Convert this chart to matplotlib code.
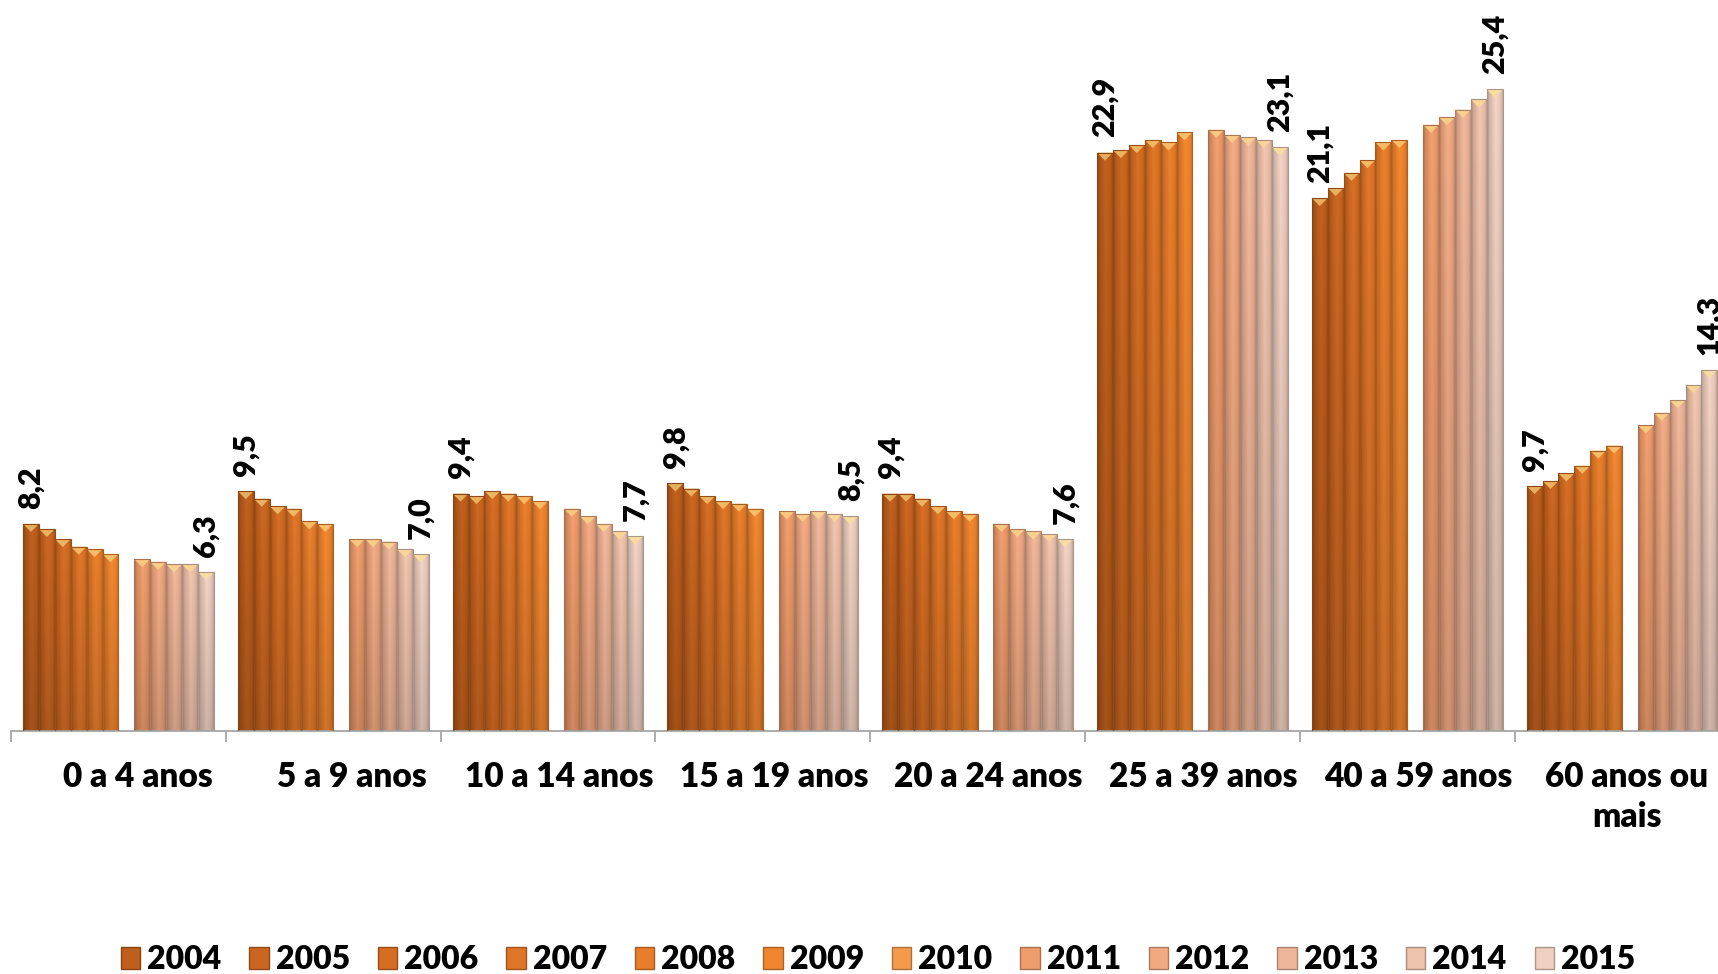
import numpy as np
import matplotlib
matplotlib.use("Agg")
import matplotlib.pyplot as plt
from matplotlib.colors import to_rgb
from matplotlib.patches import Patch, Polygon
from matplotlib.transforms import offset_copy

plt.rcParams['font.family'] = ['Lato', 'DejaVu Sans']

CATEGORIES = ["0 a 4 anos", "5 a 9 anos", "10 a 14 anos", "15 a 19 anos",
              "20 a 24 anos", "25 a 39 anos", "40 a 59 anos", "60 anos ou\nmais"]
YEARS = ["2004", "2005", "2006", "2007", "2008", "2009",
         "2010", "2011", "2012", "2013", "2014", "2015"]

# one list per year, one value (%) per age group; 2010 has no data
V2004 = [8.2, 9.5, 9.4, 9.8, 9.4, 22.9, 21.1, 9.7]
V2005 = [8.0, 9.2, 9.3, 9.6, 9.4, 23.0, 21.5, 9.9]
V2006 = [7.6, 8.9, 9.5, 9.3, 9.2, 23.2, 22.1, 10.2]
V2007 = [7.3, 8.8, 9.4, 9.1, 8.9, 23.4, 22.6, 10.5]
V2008 = [7.2, 8.3, 9.3, 9.0, 8.7, 23.3, 23.3, 11.1]
V2009 = [7.0, 8.2, 9.1, 8.8, 8.6, 23.7, 23.4, 11.3]
V2010 = [np.nan] * 8
V2011 = [6.8, 7.6, 8.8, 8.7, 8.2, 23.8, 24.0, 12.1]
V2012 = [6.7, 7.6, 8.5, 8.6, 8.0, 23.6, 24.3, 12.6]
V2013 = [6.6, 7.5, 8.2, 8.7, 7.9, 23.5, 24.6, 13.1]
V2014 = [6.6, 7.2, 7.9, 8.6, 7.8, 23.4, 25.0, 13.7]
V2015 = [6.3, 7.0, 7.7, 8.5, 7.6, 23.1, 25.4, 14.3]

SERIES = [V2004, V2005, V2006, V2007, V2008, V2009,
          V2010, V2011, V2012, V2013, V2014, V2015]

COLORS = ["#BF5F1C", "#CB6620", "#D56D23", "#DF7527", "#E87D2B", "#F0852F",
          "#F39A4C", "#EF9C6C", "#F1A982", "#EFB598", "#EFC2AC", "#EFCFC0"]

LABEL_DX = [19, 19, 11, 11, 11, 11, 11, 5]   # px shift of category labels

BAR_W = 0.074
TRI_H = 0.32


def mix(c1, c2, t):
    a = np.array(to_rgb(c1))
    b = np.array(to_rgb(c2))
    return tuple(a * (1 - t) + b * t)


def darker(c, f=0.72):
    return tuple(np.array(to_rgb(c)) * f)


def shade_bar(ax, rect, color):
    x0, w, h = rect.get_x(), rect.get_width(), rect.get_height()
    u = np.linspace(0, 1, 24)
    v = np.linspace(0, 1, 40)[:, None]
    horiz = np.interp(u, [0, 0.12, 0.55, 0.88, 1], [0.70, 0.86, 1.03, 0.95, 0.82])
    vert = 0.85 + 0.15 * v
    f = horiz[None, :] * vert
    rgb = np.clip(np.array(to_rgb(color))[None, None, :] * f[:, :, None], 0, 1)
    im = ax.imshow(rgb, extent=(x0, x0 + w, 0, h), origin='lower',
                   aspect='auto', interpolation='bilinear', zorder=2)
    im.set_clip_path(rect)
    tri = Polygon([(x0, h), (x0 + w, h), (x0 + w / 2, h - TRI_H)], closed=True,
                  facecolor=mix(color, "#FFE48A", 0.6), edgecolor='none', zorder=2.5)
    ax.add_patch(tri)


def main():
    fig = plt.figure(figsize=(17.18, 9.74), dpi=100)
    ax = fig.add_axes([11 / 1718, 1 - 731 / 974, 1 - 11 / 1718, 731 / 974])

    x = np.arange(len(CATEGORIES))
    for j, (vals, col) in enumerate(zip(SERIES, COLORS)):
        if np.all(np.isnan(vals)):
            continue
        pos = x + (j - 5.5) * BAR_W
        bars = ax.bar(pos, vals, width=BAR_W, facecolor='none',
                      edgecolor=darker(col), linewidth=0.8, zorder=3)
        for rect in bars:
            shade_bar(ax, rect, col)
        if j in (0, len(SERIES) - 1):
            for p, v in zip(pos, vals):
                ax.annotate(f"{v:.1f}".replace('.', ','), xy=(p, v), xytext=(0, 11),
                            textcoords='offset points', rotation=90, ha='center',
                            va='bottom', fontsize=22, fontweight='heavy',
                            annotation_clip=False)

    for s in ('top', 'left', 'right'):
        ax.spines[s].set_visible(False)
    ax.spines['bottom'].set_color('#A6A6A6')
    ax.spines['bottom'].set_linewidth(1.3)
    ax.set_yticks([])
    ax.set_xticks(np.arange(-0.5, len(CATEGORIES), 1))
    ax.set_xticklabels([])
    ax.tick_params(axis='x', length=8, width=1.3, color='#A6A6A6', direction='out')
    # limits last, set_xticks would widen them otherwise
    ax.set_xlim(-0.5, -0.5 + (1718 - 11) / 214.8)
    ax.set_ylim(0, 731 / 25.26)

    for i, (cat, dx) in enumerate(zip(CATEGORIES, LABEL_DX)):
        tr = offset_copy(ax.transData, fig=fig, x=dx, y=-30, units='dots')
        ax.text(i, 0, cat, transform=tr, ha='center', va='top', fontsize=24,
                fontweight='heavy', multialignment='center', linespacing=1.3)

    handles = [Patch(facecolor=c, edgecolor=darker(c)) for c in COLORS]
    fig.legend(handles, YEARS, loc='center', bbox_to_anchor=(0.511, 0.0146), ncol=12,
               frameon=False, prop={'size': 23, 'weight': 'heavy'},
               handlelength=0.6, handleheight=0.66, handletextpad=0.22,
               columnspacing=0.88, borderpad=0, borderaxespad=0)

    fig.savefig("out.png", dpi=100)


if __name__ == "__main__":
    main()
